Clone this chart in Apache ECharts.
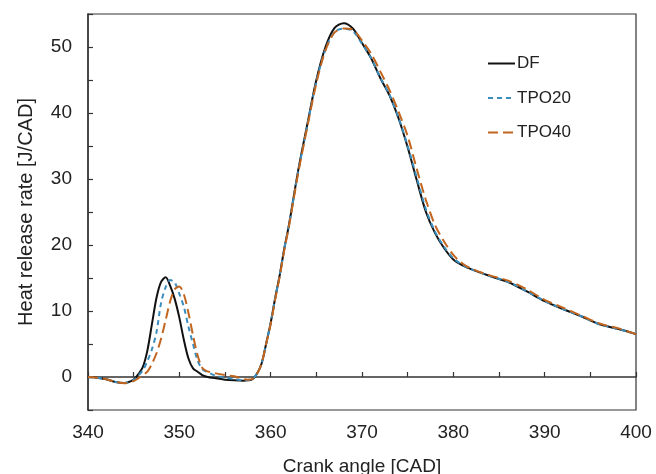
<!DOCTYPE html>
<html>
<head>
<meta charset="utf-8">
<script src="https://cdn.jsdelivr.net/npm/echarts@6/dist/echarts.min.js"></script>
<style>html,body{margin:0;padding:0;background:#fff;}#chart{width:656px;height:474px;}</style>
</head>
<body>
<div id="chart"></div>
<script>
var seriesNames = ['DF', 'TPO20', 'TPO40'];
var crankAngle = [340,341,342,343,344,345,345.5,346,346.5,347,347.5,348,348.5,349,349.5,350,350.5,351,351.5,352,352.5,353,354,355,356,357,357.5,358,358.5,359,359.5,360,360.5,361,361.5,362,363,364,365,366,367,368,369,370,371,372,373,374,375,376,377,378,379,380,381,382,384,386,388,390,392,394,396,398,400];
var hrrDF = [0,-0.1,-0.35,-0.75,-0.9,-0.4,0.4,1.5,4.0,8.0,12.0,14.4,15.1,13.8,11.8,9.0,5.6,2.8,1.3,0.8,0.3,0.05,-0.2,-0.4,-0.5,-0.55,-0.5,-0.35,0.5,2.0,5.0,8.2,12.0,15.5,19.5,23.0,31.2,38.2,45.0,50.0,52.9,53.6,52.8,50.6,48.3,45.3,42.7,39.2,34.8,29.8,25.0,21.8,19.5,17.8,16.9,16.3,15.3,14.4,13.0,11.5,10.3,9.2,8.0,7.3,6.5];
var hrrTPO20 = [0,-0.1,-0.35,-0.75,-0.9,-0.45,0.2,1.0,2.4,4.2,6.8,11.2,13.6,14.7,14.3,12.6,10.6,7.6,5.0,2.5,1.2,0.8,0.2,-0.1,-0.3,-0.5,-0.45,-0.3,0.5,2.0,5.0,8.2,12.0,15.5,19.5,23.0,31.0,38.0,44.8,49.6,52.3,52.8,52.4,50.5,48.3,45.4,42.8,39.3,35.0,30.2,25.4,22.0,19.7,18.0,17.0,16.3,15.3,14.4,13.0,11.5,10.3,9.2,8.0,7.3,6.5];
var hrrTPO40 = [0,-0.1,-0.35,-0.75,-0.95,-0.6,-0.2,0.3,0.8,2.0,3.6,5.8,8.6,11.5,13.3,13.7,12.5,9.7,6.3,3.3,1.4,0.9,0.55,0.3,0.1,-0.3,-0.4,-0.3,0.5,2.0,5.0,8.0,11.8,15.3,19.3,22.8,30.8,37.8,44.5,49.5,52.2,52.8,52.6,51.0,49.0,46.3,43.5,40.2,36.5,31.5,26.8,23.0,20.5,18.5,17.2,16.4,15.4,14.6,13.3,11.7,10.5,9.3,8.1,7.4,6.5];
var xTicks = [340, 350, 360, 370, 380, 390, 400];
var yTicks = [0, 10, 20, 30, 40, 50];

function pairs(xs, ys) { return xs.map(function (x, i) { return [x, ys[i]]; }); }

var font = '"Liberation Sans", Arial, sans-serif';
var chart = echarts.init(document.getElementById('chart'), null, {renderer: 'canvas'});
chart.setOption({
  animation: false,
  backgroundColor: '#fff',
  grid: {left: 88, right: 20, top: 14, bottom: 64, containLabel: false, outerBoundsMode: 'none',
         show: true, borderColor: '#333', borderWidth: 1.2, backgroundColor: 'transparent'},
  legend: {
    data: seriesNames,
    orient: 'vertical',
    left: 482, top: 50,
    itemWidth: 27, itemHeight: 14, itemGap: 17.5,
    itemStyle: {opacity: 0},
    textStyle: {fontFamily: font, fontSize: 17, color: '#222', padding: [0,0,0,-3]}
  },
  xAxis: {
    type: 'value', min: 340, max: 400, interval: 5,
    name: 'Crank angle [CAD]', nameLocation: 'middle', nameGap: 47,
    nameTextStyle: {fontFamily: font, fontSize: 19, color: '#222'},
    axisLine: {lineStyle: {color: '#333', width: 1.5}},
    axisTick: {inside: true, length: 5, lineStyle: {color: '#333', width: 1.2}},
    axisLabel: {margin: 13, fontFamily: font, fontSize: 19, color: '#222',
      formatter: function (v) { return xTicks.indexOf(v) >= 0 ? String(v) : ''; }},
    splitLine: {show: false}
  },
  yAxis: {
    type: 'value', min: -5, max: 55, interval: 5,
    name: 'Heat release rate [J/CAD]', nameLocation: 'middle', nameGap: 52,
    nameTextStyle: {fontFamily: font, fontSize: 20, color: '#222'},
    axisLine: {show: true, lineStyle: {color: '#333', width: 1.5}},
    axisTick: {show: true, inside: true, length: 5, lineStyle: {color: '#333', width: 1.2}},
    axisLabel: {margin: 16, fontFamily: font, fontSize: 19, color: '#222',
      formatter: function (v) { return yTicks.indexOf(v) >= 0 ? String(v) : ''; }},
    splitLine: {show: false}
  },
  series: [
    {name: seriesNames[0], type: 'line', symbol: 'none', smooth: 0.3, z: 3,
     data: pairs(crankAngle, hrrDF), lineStyle: {color: '#111', width: 2}, itemStyle: {color: '#111'}},
    {name: seriesNames[1], type: 'line', symbol: 'none', smooth: 0.3, z: 4,
     data: pairs(crankAngle, hrrTPO20), lineStyle: {color: '#3b8dbd', width: 2, type: [5, 4]}, itemStyle: {color: '#3b8dbd'}},
    {name: seriesNames[2], type: 'line', symbol: 'none', smooth: 0.3, z: 5,
     data: pairs(crankAngle, hrrTPO40), lineStyle: {color: '#c2651e', width: 2, type: [10, 5]}, itemStyle: {color: '#c2651e'}}
  ]
});
</script>
</body>
</html>
